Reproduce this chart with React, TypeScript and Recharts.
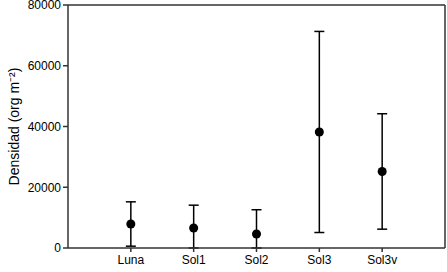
import React from "react";
import {
    ComposedChart,
    Scatter,
    ErrorBar,
    XAxis,
    YAxis,
    ReferenceLine,
    Label,
} from "recharts";

const sites = ["Luna", "Sol1", "Sol2", "Sol3", "Sol3v"];
const density = [7900, 6600, 4600, 38200, 25200];
const sd = [7300, 7500, 8000, 33100, 19000];
const yTicks = [0, 20000, 40000, 60000, 80000];

// lower whisker stops at the axis (plot is clipped at 0)
const rows = sites.map((s, i) => ({
    pos: i + 1,
    site: s,
    density: density[i],
    err: [Math.min(sd[i], density[i]), sd[i]],
}));

const font = "'Liberation Sans', Arial, sans-serif";
const axisColor = "#333333";

const App: React.FC = () => {
    return (
        <div style={{ position: "absolute", left: 0, top: 0, width: 447, height: 272, background: "#fff" }}>
            <ComposedChart
                width={447}
                height={272}
                data={rows}
                margin={{ top: 5, right: 2, left: 0, bottom: 0 }}
                style={{ fontFamily: font }}
            >
                <XAxis
                    type="number"
                    dataKey="pos"
                    domain={[0, 6]}
                    ticks={[1, 2, 3, 4, 5]}
                    tickFormatter={(v: number) => sites[v - 1] ?? ""}
                    interval={0}
                    stroke={axisColor}
                    strokeWidth={1.5}
                    tickSize={4}
                    tickMargin={3}
                    tick={{ fontSize: 12, fill: "#000" }}
                    height={24}
                />
                <YAxis
                    type="number"
                    domain={[0, 80000]}
                    ticks={yTicks}
                    allowDataOverflow
                    interval={0}
                    stroke={axisColor}
                    strokeWidth={1.5}
                    tickSize={5}
                    tickMargin={2}
                    tick={{ fontSize: 12, fill: "#000" }}
                    width={68}
                >
                    <Label
                        angle={-90}
                        position="insideLeft"
                        offset={14}
                        style={{ textAnchor: "middle", fontSize: 14, fill: "#000" }}
                    >
                        Densidad (org m⁻²)
                    </Label>
                </YAxis>
                <ReferenceLine y={80000} stroke={axisColor} strokeWidth={1.5} />
                <ReferenceLine x={6} stroke={axisColor} strokeWidth={1.5} />
                <Scatter
                    dataKey="density"
                    fill="#000"
                    shape="circle"
                    isAnimationActive={false}
                >
                    <ErrorBar
                        dataKey="err"
                        direction="y"
                        width={5}
                        stroke="#000"
                        strokeWidth={1.5}
                        isAnimationActive={false}
                    />
                </Scatter>
            </ComposedChart>
        </div>
    );
};

export default App;
